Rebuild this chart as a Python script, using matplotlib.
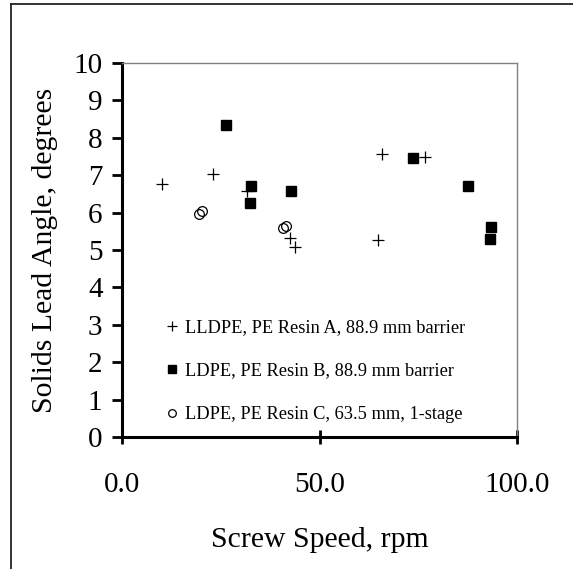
import matplotlib
matplotlib.use('Agg')
import matplotlib.pyplot as plt
from matplotlib.lines import Line2D

# LLDPE, PE Resin A, 88.9 mm barrier
speed_a = [10.2, 23.0, 31.7, 42.5, 43.7, 64.9, 65.9, 76.8]
angle_a = [6.76, 7.02, 6.59, 5.33, 5.08, 5.26, 7.58, 7.48]

# LDPE, PE Resin B, 88.9 mm barrier
speed_b = [26.3, 32.6, 32.4, 42.7, 73.6, 87.7, 93.4, 93.2]
angle_b = [8.33, 6.71, 6.27, 6.59, 7.47, 6.72, 5.61, 5.30]

# LDPE, PE Resin C, 63.5 mm, 1-stage
speed_c = [19.4, 20.3, 40.7, 41.4]
angle_c = [5.95, 6.04, 5.58, 5.63]

labels = ['LLDPE, PE Resin A, 88.9 mm barrier',
          'LDPE, PE Resin B, 88.9 mm barrier',
          'LDPE, PE Resin C, 63.5 mm, 1-stage']

x_ticks = [0, 50, 100]
y_ticks = list(range(0, 11))

plt.rcParams['font.family'] = ['Liberation Serif', 'DejaVu Serif']

fig = plt.figure(figsize=(5.73, 5.69), dpi=100)

# outer frame (only top and left edges visible)
fig.add_artist(Line2D([11/573, 1.0], [1 - 3.5/569, 1 - 3.5/569], color='#222222', lw=1.3))
fig.add_artist(Line2D([11/573, 11/573], [0.0, 1 - 3.5/569], color='#222222', lw=1.3))

ax = fig.add_axes([122/573, 132/569, 395/573, 374/569])

ax.plot(speed_a, angle_a, linestyle='none', marker='+', markersize=9, markeredgewidth=0.9, color='black')
ax.plot(speed_b, angle_b, linestyle='none', marker='s', markersize=7.2, color='black')
ax.plot(speed_c, angle_c, linestyle='none', marker='o', markersize=7, markerfacecolor='none',
        markeredgecolor='black', markeredgewidth=0.9)

ax.set_xlim(0, 100)
ax.set_ylim(0, 10)
ax.set_xticks(x_ticks)
ax.set_xticklabels(['%.1f' % v for v in x_ticks])
ax.set_yticks(y_ticks)

ax.spines['left'].set_linewidth(2.2)
ax.spines['bottom'].set_linewidth(2.2)
ax.spines['top'].set_color('#808080')
ax.spines['right'].set_color('#808080')
ax.spines['top'].set_linewidth(1.0)
ax.spines['right'].set_linewidth(1.0)

ax.tick_params(axis='y', direction='out', length=7, width=2, pad=7, labelsize=21)
ax.tick_params(axis='x', direction='inout', length=10, width=2, pad=20, labelsize=21)

ax.set_xlabel('Screw Speed, rpm', fontsize=21.4, labelpad=21)
ax.set_ylabel('Solids Lead Angle, degrees', fontsize=21.4, labelpad=11)

handles = [
    Line2D([], [], linestyle='none', marker='+', markersize=7, markeredgewidth=0.9, color='black'),
    Line2D([], [], linestyle='none', marker='s', markersize=6, color='black'),
    Line2D([], [], linestyle='none', marker='o', markersize=5.5, markerfacecolor='none',
           markeredgecolor='black', markeredgewidth=0.9),
]
ax.legend(handles, labels, loc='upper left', bbox_to_anchor=(0.09, 0.34), frameon=False,
          fontsize=13.2, handlelength=0.6, handletextpad=0.4, labelspacing=1.45, borderpad=0)

fig.savefig('out.png', dpi=100)
